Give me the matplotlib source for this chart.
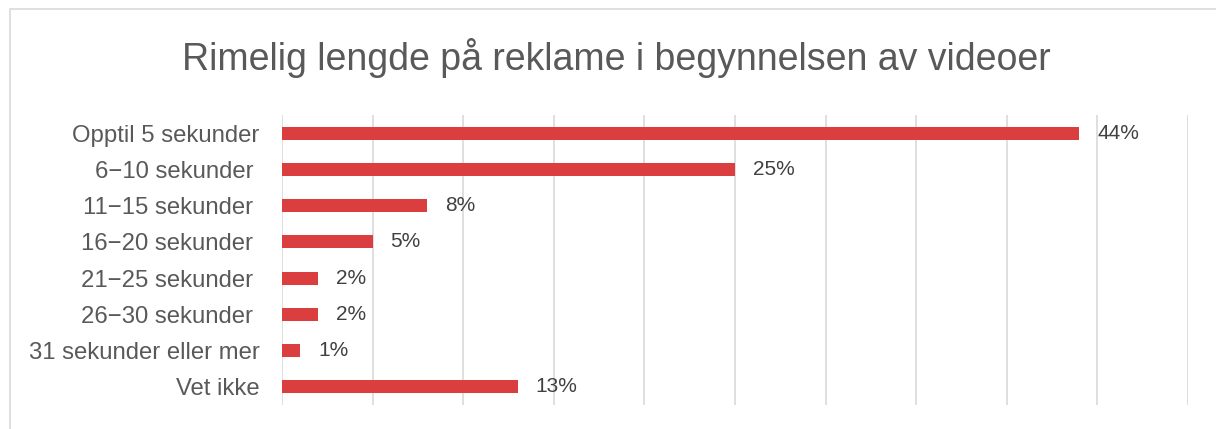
import matplotlib.pyplot as plt
from matplotlib.patches import Rectangle
from matplotlib.ticker import MultipleLocator

plt.rcParams['font.family'] = ['Liberation Sans', 'DejaVu Sans']

title = "Rimelig lengde på reklame i begynnelsen av videoer"
categories = [
    "Opptil 5 sekunder",
    "6\u221210 sekunder ",
    "11\u221215 sekunder ",
    "16\u221220 sekunder ",
    "21\u221225 sekunder ",
    "26\u221230 sekunder ",
    "31 sekunder eller mer",
    "Vet ikke",
]
values = [44, 25, 8, 5, 2, 2, 1, 13]

bar_color = "#DB3E3E"
grid_color = "#D9D9D9"
text_color = "#595959"
label_color = "#404040"

fig = plt.figure(figsize=(12.16, 4.29), dpi=100)

# chart frame (top and left edges)
fig.add_artist(Rectangle((10 / 1216, -0.1), 1.2, (429 - 9) / 429 + 0.1,
                         transform=fig.transFigure, fill=False,
                         edgecolor=grid_color, linewidth=1.2))

ax = fig.add_axes([282 / 1216, (429 - 405) / 429, (1188 - 282) / 1216, (405 - 115) / 429])

y = list(range(len(categories)))
ax.barh(y, values, height=0.36, color=bar_color)
ax.set_ylim(len(categories) - 0.5, -0.5)
ax.set_xlim(0, 50)
ax.xaxis.set_major_locator(MultipleLocator(5))
ax.grid(axis='x', color=grid_color, linewidth=1.2)
ax.set_axisbelow(True)
for s in ax.spines.values():
    s.set_visible(False)
ax.tick_params(axis='x', length=0, labelbottom=False)
ax.tick_params(axis='y', length=0, pad=16, labelsize=17.2, labelcolor=text_color)
ax.set_yticks(y)
ax.set_yticklabels(categories)

for yi, v in zip(y, values):
    ax.annotate(f"{v}%", (v, yi), xytext=(18, 0), textcoords='offset pixels',
                va='center', ha='left', fontsize=15, color=label_color)

fig.text(616 / 1216, 1 - 58 / 429, title, ha='center', va='center',
         fontsize=27, color=text_color)

fig.savefig("out.png", dpi=100)
